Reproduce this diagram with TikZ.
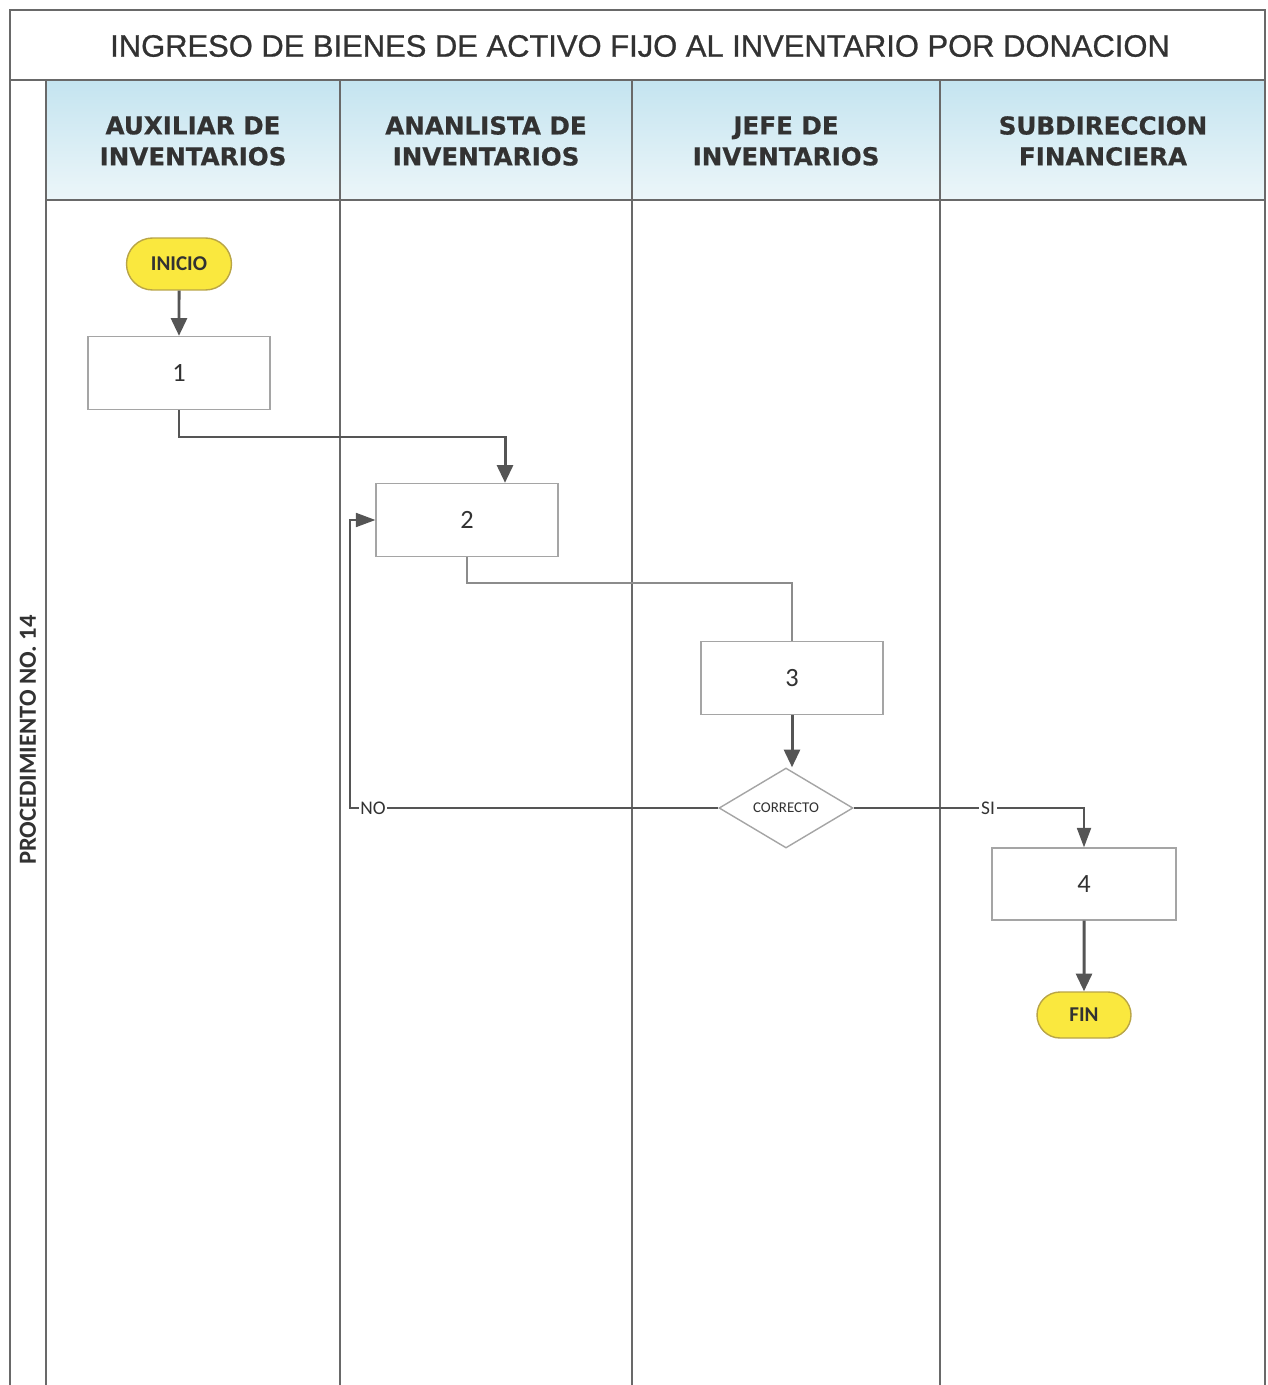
\documentclass[tikz,border=0pt]{standalone}
\usepackage{fontspec}
\setmainfont{Carlito}
\newfontfamily\titlefont[FakeBold=0.8]{Liberation Sans}
\newfontfamily\lanefont[FakeBold=0.6]{DejaVu Sans}
\usetikzlibrary{arrows.meta,shapes.geometric,shapes.misc}

\definecolor{lanegray}{RGB}{105,105,105}
\definecolor{boxgray}{RGB}{165,165,165}
\definecolor{arrowgray}{RGB}{85,85,85}
\definecolor{startyellow}{RGB}{250,232,62}
\definecolor{yellowedge}{RGB}{185,165,70}
\definecolor{headtop}{RGB}{196,228,240}
\definecolor{headbottom}{RGB}{236,246,249}
\definecolor{textgray}{RGB}{50,50,50}

\begin{document}
\begin{tikzpicture}[x=0.02cm,y=-0.02cm,
    every node/.append style={inner sep=0pt},
    lane/.style={draw=lanegray,line width=1.1pt},
    process/.style={draw=boxgray,line width=0.8pt,fill=white,
        minimum width=3.64cm,minimum height=1.46cm,
        font=\fontsize{15}{18}\selectfont,text=textgray},
    terminal/.style={rounded rectangle,draw=yellowedge,fill=startyellow,
        line width=0.8pt,font=\bfseries\fontsize{12}{14}\selectfont,text=textgray},
    decision/.style={diamond,draw=boxgray,line width=0.8pt,fill=white,
        minimum width=2.68cm,minimum height=1.6cm,
        font=\fontsize{8.5}{10}\selectfont,text=textgray},
    lanehead/.style={align=center,text=textgray,
        font=\lanefont\bfseries\fontsize{14}{17.6}\selectfont},
    flow/.style={draw=arrowgray,line width=1.7pt,
        -{Triangle[length=10pt,width=9pt]}},
    link/.style={draw=boxgray!85!black,line width=0.9pt},
    tag/.style={fill=white,inner sep=1pt,text=textgray,
        font=\fontsize{11}{13}\selectfont}]
    \useasboundingbox (0,0) rectangle (1267,1385);

    % frame and lanes
    \shade[top color=headtop,bottom color=headbottom] (46,80) rectangle (1265,200);
    \draw[lane] (10,1385) -- (10,10) -- (1265,10) -- (1265,1385);
    \draw[lane] (10,80) -- (1265,80);
    \draw[lane] (46,200) -- (1265,200);
    \foreach \x in {46,340,632,940}
        \draw[lane] (\x,80) -- (\x,1385);

    \node[text=textgray,font=\titlefont\fontsize{17.6}{21}\selectfont] (title) at (640,46)
        {INGRESO DE BIENES DE ACTIVO FIJO AL INVENTARIO POR DONACION};
    \node[rotate=90,text=textgray,font=\bfseries\fontsize{14}{17}\selectfont] (proc) at (28,740)
        {PROCEDIMIENTO NO. 14};

    \node[lanehead] (auxiliar) at (193,141) {AUXILIAR DE\\INVENTARIOS};
    \node[lanehead] (analista) at (486,141) {ANANLISTA DE\\INVENTARIOS};
    \node[lanehead] (jefe) at (786,141) {JEFE DE\\INVENTARIOS};
    \node[lanehead] (subdireccion) at (1103,141) {SUBDIRECCION\\FINANCIERA};

    % steps
    \node[terminal,minimum width=2.1cm,minimum height=1.04cm] (inicio) at (179,264) {INICIO};
    \node[process] (paso1) at (179,373) {1};
    \node[process] (paso2) at (467,520) {2};
    \node[process] (paso3) at (792,678) {3};
    \node[decision] (correcto) at (786,808) {CORRECTO};
    \node[process,minimum width=3.68cm,minimum height=1.44cm] (paso4) at (1084,884) {4};
    \node[terminal,minimum width=1.88cm,minimum height=0.92cm] (fin) at (1084,1015) {FIN};

    \coordinate (k1) at (505,437);
    \coordinate (kno) at (350,808);

    \draw[flow] (inicio) -- (paso1);
    \draw[flow] (paso1.south) |- (k1) -- (k1 |- paso2.north);
    \draw[link] (paso2.south) -- ++(0,26) -| (paso3.north);
    \draw[flow] (paso3.south) -- (paso3.south |- correcto.north);
    \draw[link,-{Triangle[length=11pt,width=8pt]},arrowgray] (correcto.west) -- (kno)
        |- (paso2.west);
    \draw[link,-{Triangle[length=11pt,width=8pt]},arrowgray] (correcto.east) -| (paso4.north);
    \draw[flow] (paso4) -- (fin);

    \node[tag] (no) at (373,808) {NO};
    \node[tag] (si) at (988,808) {SI};
\end{tikzpicture}
\end{document}
